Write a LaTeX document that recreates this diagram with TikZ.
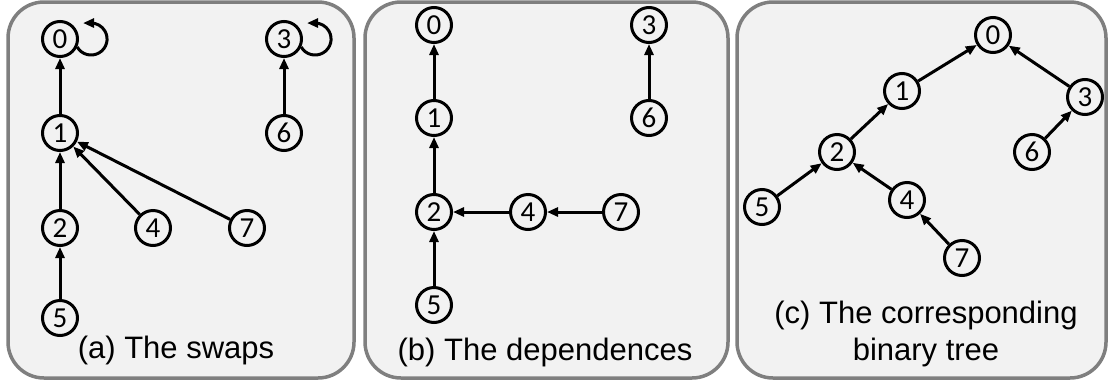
\documentclass[tikz,border=0pt]{standalone}
\usepackage{fontspec}
\setmainfont{Liberation Sans}
\newfontfamily\digitfont{Carlito}
\usetikzlibrary{arrows.meta}

\definecolor{panelfill}{HTML}{F2F2F2}
\definecolor{panelline}{HTML}{7F7F7F}

\tikzset{
  vtx/.style={circle, draw, line width=3pt, minimum size=35pt, inner sep=0pt,
    font=\digitfont\fontsize{29}{29}\selectfont},
  arr/.style={line width=3pt, -{Triangle[length=11pt,width=9pt]}},
  panel/.style={draw=panelline, fill=panelfill, line width=3.5pt, rounded corners=36pt},
  caption/.style={font=\fontsize{31}{37}\selectfont, align=center}
}

\begin{document}
\begin{tikzpicture}[x=1pt, y=1pt]
        \useasboundingbox (0,0) rectangle (1108,-381);

        % panels
        \draw[panel] (8,-2) rectangle (354,-378);
        \draw[panel] (365,-2) rectangle (728,-378);
        \draw[panel] (737,-2) rectangle (1106,-378);

        % (a) the swaps
        \node[vtx] (a0) at (60,-39) {0};
        \node[vtx] (a3) at (284,-39) {3};
        \node[vtx] (a1) at (60,-133) {1};
        \node[vtx] (a6) at (284,-133) {6};
        \node[vtx] (a2) at (60,-228) {2};
        \node[vtx] (a4) at (153,-228) {4};
        \node[vtx] (a7) at (247,-228) {7};
        \node[vtx] (a5) at (60,-318) {5};
        \node[caption] (capa) at (176,-350) {(a) The swaps};

        \draw[arr] (a1) -- (a0);
        \draw[arr] (a2) -- (a1);
        \draw[arr] (a4) -- (a1);
        \draw[arr] (a7) -- (a1);
        \draw[arr] (a5) -- (a2);
        \draw[arr] (a6) -- (a3);
        \draw[arr] (a0.-25) arc[start angle=-150, end angle=90, radius=16] -- ++(-8,0);
        \draw[arr] (a3.-25) arc[start angle=-150, end angle=90, radius=16] -- ++(-8,0);

        % (b) the dependences
        \node[vtx] (b0) at (434,-25) {0};
        \node[vtx] (b3) at (649,-25) {3};
        \node[vtx] (b1) at (434,-118) {1};
        \node[vtx] (b6) at (649,-118) {6};
        \node[vtx] (b2) at (434,-212) {2};
        \node[vtx] (b4) at (528,-212) {4};
        \node[vtx] (b7) at (621,-212) {7};
        \node[vtx] (b5) at (434,-305) {5};
        \node[caption] (capb) at (545,-352) {(b) The dependences};

        \draw[arr] (b1) -- (b0);
        \draw[arr] (b2) -- (b1);
        \draw[arr] (b5) -- (b2);
        \draw[arr] (b4) -- (b2);
        \draw[arr] (b7) -- (b4);
        \draw[arr] (b6) -- (b3);

        % (c) the binary tree
        \node[vtx] (c0) at (993,-35) {0};
        \node[vtx] (c1) at (902,-91) {1};
        \node[vtx] (c3) at (1085,-97) {3};
        \node[vtx] (c2) at (837,-152) {2};
        \node[vtx] (c6) at (1032,-152) {6};
        \node[vtx] (c5) at (762,-207) {5};
        \node[vtx] (c4) at (907,-200) {4};
        \node[vtx] (c7) at (962,-258) {7};
        \node[caption] (capc) at (926,-334) {(c) The corresponding\\binary tree};

        \draw[arr] (c1) -- (c0);
        \draw[arr] (c3) -- (c0);
        \draw[arr] (c2) -- (c1);
        \draw[arr] (c5) -- (c2);
        \draw[arr] (c4) -- (c2);
        \draw[arr] (c7) -- (c4);
        \draw[arr] (c6) -- (c3);
\end{tikzpicture}
\end{document}
